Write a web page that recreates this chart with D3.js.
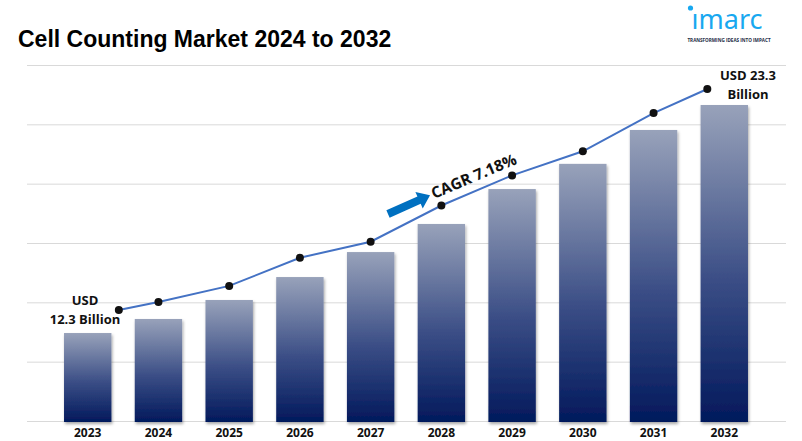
<!DOCTYPE html>
<html>
<head>
<meta charset="utf-8">
<script src="https://cdn.jsdelivr.net/npm/d3@7"></script>
<style>
  body { margin: 0; background: #fff; }
  svg { display: block; }
</style>
</head>
<body>
<div id="chart"></div>
<script>
// chart data
var years = ["2023", "2024", "2025", "2026", "2027", "2028", "2029", "2030", "2031", "2032"];
// bar heights (USD billion, bars start above zero as in the original)
var barValues = [12.26, 12.94, 13.86, 14.97, 16.18, 17.54, 19.23, 20.45, 22.09, 23.30];
// line series (USD billion)
var lineValues = [12.3, 12.7, 13.5, 14.9, 15.7, 17.5, 19.0, 20.2, 22.1, 23.3];
var gridTicks = [0, 1, 2, 3, 4, 5, 6];

var width = 802, height = 441;
var margin = {top: 65, right: 16, bottom: 20, left: 27};

var svg = d3.select("#chart")
  .append("svg")
    .attr("width", width)
    .attr("height", height)
    .style("font-family", "'Open Sans', 'DejaVu Sans', sans-serif");

// gradient for the bars
var defs = svg.append("defs");
var grad = defs.append("linearGradient")
    .attr("id", "barGrad")
    .attr("x1", 0).attr("y1", 0).attr("x2", 0).attr("y2", 1);
grad.append("stop").attr("offset", "0%").attr("stop-color", "#98a2ba");
grad.append("stop").attr("offset", "55%").attr("stop-color", "#3b4e86");
grad.append("stop").attr("offset", "100%").attr("stop-color", "#02195c");

var shadow = defs.append("filter").attr("id", "shadow")
    .attr("x", "-20%").attr("y", "-5%").attr("width", "140%").attr("height", "115%");
shadow.append("feDropShadow")
    .attr("dx", 1).attr("dy", 2).attr("stdDeviation", 1.5)
    .attr("flood-color", "#000").attr("flood-opacity", 0.35);

// title
svg.append("text")
   .attr("x", 18)
   .attr("y", 47)
   .style("font-family", "'Liberation Sans', Arial, sans-serif")
   .style("font-weight", "bold")
   .style("font-size", "23px")
   .style("fill", "#000")
   .text("Cell Counting Market 2024 to 2032");

// logo
var logo = svg.append("g").attr("transform", "translate(685,0)");
logo.append("text")
    .attr("x", 42).attr("y", 29)
    .attr("text-anchor", "middle")
    .style("font-family", "'Noto Sans', sans-serif")
    .style("font-size", "27px")
    .style("fill", "#18a8f0")
    .text("ımarc");
logo.append("circle").attr("cx", 5.5).attr("cy", 8).attr("r", 2.6).attr("fill", "#18a8f0");
logo.append("text")
    .attr("x", 44).attr("y", 42)
    .attr("text-anchor", "middle")
    .style("font-size", "4.6px")
    .style("font-weight", "bold")
    .style("fill", "#1c2a44")
    .text("TRANSFORMING IDEAS INTO IMPACT");

// scales
var x = d3.scaleBand()
  .domain(years)
  .range([52, 760])
  .paddingInner(0.33)
  .paddingOuter(0.17);

var yGrid = d3.scaleLinear()
  .domain([0, 6])
  .range([421, margin.top]);

var yBar = d3.scaleLinear()
  .domain([8, 23.3])
  .range([421, 105]);

var yLine = d3.scaleLinear()
  .domain([12.3, 23.3])
  .range([310, 89]);

// gridlines
svg.append("g")
  .selectAll("line")
  .data(gridTicks)
  .enter()
  .append("line")
    .attr("x1", margin.left)
    .attr("x2", width - margin.right)
    .attr("y1", function(d) { return yGrid(d) + 0.5; })
    .attr("y2", function(d) { return yGrid(d) + 0.5; })
    .attr("stroke", "#d9d9d9")
    .attr("stroke-width", 1);

// bars
svg.append("g")
  .selectAll("rect")
  .data(years)
  .enter()
  .append("rect")
    .attr("x", function(d) { return x(d); })
    .attr("y", function(d, i) { return yBar(barValues[i]); })
    .attr("width", x.bandwidth())
    .attr("height", function(d, i) { return yBar(8) - yBar(barValues[i]) + 1; })
    .attr("fill", "url(#barGrad)")
    .attr("filter", "url(#shadow)");

// x axis labels
svg.append("g")
  .selectAll("text")
  .data(years)
  .enter()
  .append("text")
    .attr("x", function(d) { return x(d) + x.bandwidth() / 2; })
    .attr("y", 437)
    .attr("text-anchor", "middle")
    .style("font-weight", "bold")
    .style("font-size", "12px")
    .style("fill", "#111")
    .text(function(d) { return d; });

// line points: end points sit inside the outer bars like in the original
var lastIdx = years.length - 1;
function lineX(d, i) {
  var cx = x(years[i]) + x.bandwidth() / 2;
  if (i === 0) cx += x.step() * 0.44;
  if (i === lastIdx) cx -= x.step() * 0.24;
  return cx;
}

var line = d3.line()
  .x(function(d, i) { return lineX(d, i); })
  .y(function(d) { return yLine(d); });

svg.append("path")
  .datum(lineValues)
  .attr("fill", "none")
  .attr("stroke", "#4472c4")
  .attr("stroke-width", 2)
  .attr("d", line);

svg.append("g")
  .selectAll("circle")
  .data(lineValues)
  .enter()
  .append("circle")
    .attr("cx", function(d, i) { return lineX(d, i); })
    .attr("cy", function(d) { return yLine(d); })
    .attr("r", 4)
    .attr("fill", "#111");

// value labels
var labStyle = function(sel) {
  sel.style("font-weight", "bold").style("font-size", "13px").style("fill", "#111");
};
svg.append("text").attr("x", 85).attr("y", 305).attr("text-anchor", "middle")
   .call(labStyle).text("USD");
svg.append("text").attr("x", 85).attr("y", 324).attr("text-anchor", "middle")
   .call(labStyle).text("12.3 Billion");
svg.append("text").attr("x", 748).attr("y", 80).attr("text-anchor", "middle")
   .call(labStyle).text("USD 23.3");
svg.append("text").attr("x", 748).attr("y", 99).attr("text-anchor", "middle")
   .call(labStyle).text("Billion");

// CAGR arrow and label
var arrow = svg.append("g").attr("transform", "translate(388,214) rotate(-24)");
arrow.append("path")
  .attr("d", "M0,-4 L34,-4 L34,-9 L46,0 L34,9 L34,4 L0,4 Z")
  .attr("fill", "#0070c0");

svg.append("text")
   .attr("transform", "translate(434,199) rotate(-23)")
   .style("font-weight", "bold")
   .style("font-size", "15.5px")
   .style("fill", "#111")
   .text("CAGR 7.18%");
</script>
</body>
</html>
